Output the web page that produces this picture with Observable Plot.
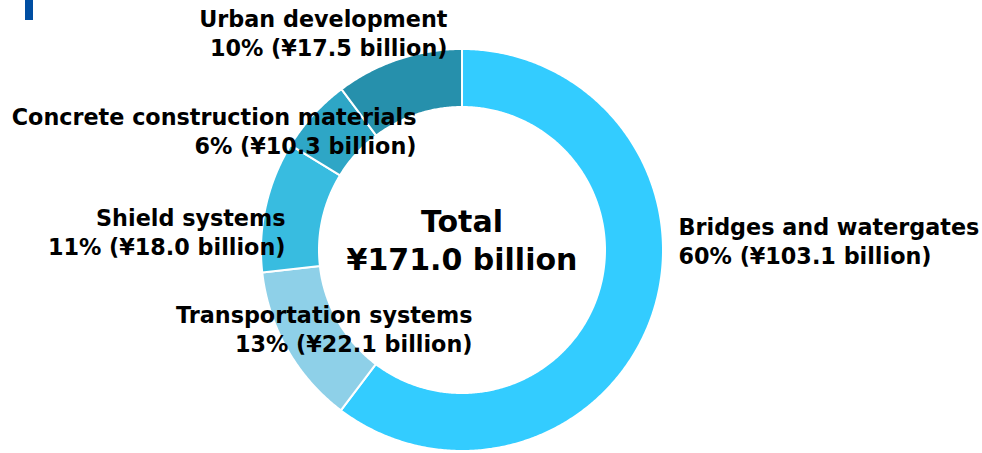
<!DOCTYPE html>
<html>
<head>
<meta charset="utf-8">
<script src="https://cdn.jsdelivr.net/npm/d3@7"></script>
<script src="https://cdn.jsdelivr.net/npm/@observablehq/plot@0.6"></script>
<style>
  html, body { margin: 0; padding: 0; background: #fff; }
  #wrap { position: relative; width: 982px; height: 453px; }
  #mark { position: absolute; left: 25px; top: 0; width: 8px; height: 20px; background: #004EA2; }
</style>
</head>
<body>
<div id="wrap"><div id="mark"></div></div>
<script>
// ---- data ----
const categories = ["Bridges and watergates", "Transportation systems", "Shield systems", "Concrete construction materials", "Urban development"];
const values = [103.1, 22.1, 18.0, 10.3, 17.5];          // ¥ billion
const percents = [60, 13, 11, 6, 10];                      // %
const totalLabel = "¥171.0 billion";
const colors = ["#33CCFF", "#8ED0E8", "#38BCE0", "#2EA6C6", "#2690AC"];

// ---- layout ----
const W = 982, H = 453;
const cx = 461.5, cy = 249.5, R = 201, r0 = 143;
// label anchors in pixel space: [x, y, anchor]
const labelPos = [
  [678, 240, "start"],
  [472, 328, "end"],
  [285, 231, "end"],
  [416, 130, "end"],
  [447, 32, "end"]
];

const pie = d3.pie().sort(null).value(d => d)(values);

// build slice polygons in data space (x right, y up, origin at donut center)
const pts = [];
pie.forEach((p, i) => {
  const a0 = p.startAngle, a1 = p.endAngle;
  const n = Math.max(4, Math.ceil((a1 - a0) / (Math.PI / 360)));
  const ring = [];
  for (let k = 0; k <= n; k++) { const a = a0 + (a1 - a0) * k / n; ring.push([R * Math.sin(a), R * Math.cos(a)]); }
  for (let k = n; k >= 0; k--) { const a = a0 + (a1 - a0) * k / n; ring.push([r0 * Math.sin(a), r0 * Math.cos(a)]); }
  ring.push(ring[0]);
  ring.forEach(([x, y]) => pts.push({cat: categories[i], color: colors[i], x, y}));
});

const labels = categories.map((c, i) => ({
  text: `${c}\n${percents[i]}% (¥${values[i].toFixed(1)} billion)`,
  x: labelPos[i][0] - cx,
  y: cy - labelPos[i][1],
  anchor: labelPos[i][2]
}));

const font = "'DejaVu Sans', Verdana, sans-serif";

const chart = Plot.plot({
  width: W, height: H,
  margin: 0,
  x: {domain: [-cx, W - cx], axis: null},
  y: {domain: [-(H - cy), cy], axis: null},
  color: {type: "identity"},
  style: {fontFamily: font, background: "transparent"},
  marks: [
    Plot.line(pts, {x: "x", y: "y", z: "cat", fill: "color", stroke: "white", strokeWidth: 2, curve: "linear"}),
    Plot.text(labels.filter(d => d.anchor === "end"), {x: "x", y: "y", text: "text", textAnchor: "end", lineAnchor: "middle", fontSize: 22.3, fontWeight: "bold", lineHeight: 1.3, fill: "#000"}),
    Plot.text(labels.filter(d => d.anchor === "start"), {x: "x", y: "y", text: "text", textAnchor: "start", lineAnchor: "middle", fontSize: 22.3, fontWeight: "bold", lineHeight: 1.3, fill: "#000"}),
    Plot.text([{t: "Total\n" + totalLabel}], {x: () => 0, y: () => cy - 238, text: "t", textAnchor: "middle", lineAnchor: "middle", fontSize: 30, fontWeight: "bold", lineHeight: 1.27, fill: "#000"})
  ]
});
chart.style.position = "absolute";
chart.style.left = "0";
chart.style.top = "0";
document.getElementById("wrap").appendChild(chart);
document.getElementById("wrap").appendChild(document.getElementById("mark"));
</script>
</body>
</html>
